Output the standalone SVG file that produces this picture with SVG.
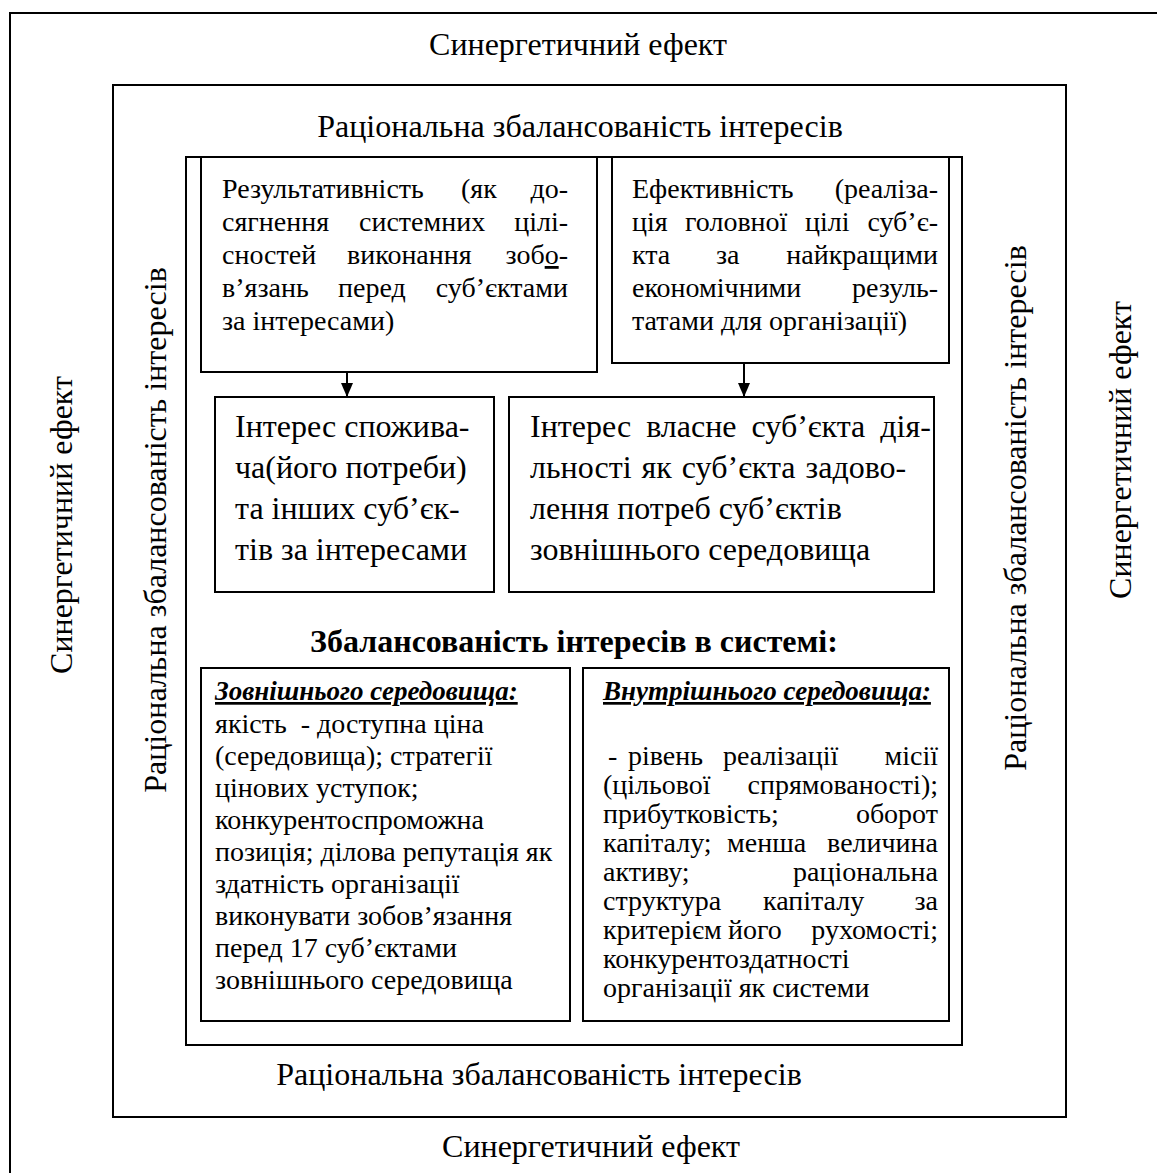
<svg xmlns="http://www.w3.org/2000/svg" width="1157" height="1173" viewBox="0 0 1157 1173">
<defs>
<style>
.t{font-family:"Liberation Serif","Times New Roman",serif;font-size:32px;fill:#000}
.m{font-family:"Liberation Serif","Times New Roman",serif;font-size:28px;fill:#000}
.s{font-family:"Liberation Serif","Times New Roman",serif;font-size:28px;fill:#000;white-space:pre}
.c{text-anchor:middle}
.e{text-anchor:end}
.h{font-weight:bold}
.u{font-weight:bold;font-style:italic;text-decoration:underline;font-size:27px}
.box{fill:#fff;stroke:#000;stroke-width:2}
.frame{fill:none;stroke:#000;stroke-width:2}
.conn{stroke:#000;stroke-width:2;fill:none}
</style>
<marker id="arr" viewBox="0 0 14 12" refX="14" refY="6" markerWidth="14" markerHeight="12" markerUnits="userSpaceOnUse" orient="auto">
<path d="M0,0 L14,6 L0,12 Z" fill="#000"/>
</marker>
</defs>
<rect width="1157" height="1173" fill="#fff"/>

<g id="outer">
<path class="frame" d="M10,1173 V13 H1157"/>
<text class="t c" x="578" y="55">Синергетичний ефект</text>
<text class="t c" x="591" y="1157">Синергетичний ефект</text>
<text class="t c" transform="translate(72,525) rotate(-90)">Синергетичний ефект</text>
<text class="t c" transform="translate(1131,450) rotate(-90)">Синергетичний ефект</text>
</g>

<g id="rational">
<rect class="frame" x="113" y="85" width="953" height="1032"/>
<text class="t c" x="580" y="137">Раціональна збалансованість інтересів</text>
<text class="t c" x="539" y="1085">Раціональна збалансованість інтересів</text>
<text class="t c" transform="translate(166,530) rotate(-90)">Раціональна збалансованість інтересів</text>
<text class="t c" transform="translate(1026,508) rotate(-90)">Раціональна збалансованість інтересів</text>
</g>

<g id="inner">
<rect class="frame" x="186" y="157" width="776" height="888"/>
<text class="t h c" x="574" y="652">Збалансованість інтересів в системі:</text>
</g>

<g id="resultativeness">
<rect class="box" x="201" y="157" width="396" height="215"/>
<text class="m" x="222" y="198">Результативність</text>
<text class="m" x="461" y="198">(як</text>
<text class="m e" x="568" y="198">до-</text>
<text class="m" x="222" y="231">сягнення</text>
<text class="m" x="359" y="231">системних</text>
<text class="m e" x="568" y="231">цілі-</text>
<text class="m" x="222" y="264">сностей</text>
<text class="m" x="347" y="264">виконання</text>
<text class="m e" x="568" y="264">зоб<tspan style="text-decoration:underline">о</tspan>-</text>
<text class="m" x="222" y="297">в’язань</text>
<text class="m" x="338" y="297">перед</text>
<text class="m e" x="568" y="297">суб’єктами</text>
<text class="m" x="222" y="330">за інтересами)</text>
</g>

<g id="efficiency">
<rect class="box" x="612" y="157" width="337" height="206"/>
<text class="m" x="632" y="198">Ефективність</text>
<text class="m e" x="938" y="198">(реаліза-</text>
<text class="m" x="632" y="231">ція</text>
<text class="m" x="685" y="231">головної</text>
<text class="m" x="805" y="231">цілі</text>
<text class="m e" x="938" y="231">суб’є-</text>
<text class="m" x="632" y="264">кта</text>
<text class="m" x="716" y="264">за</text>
<text class="m e" x="938" y="264">найкращими</text>
<text class="m" x="632" y="297">економічними</text>
<text class="m e" x="938" y="297">резуль-</text>
<text class="m" x="632" y="330">татами для організації)</text>
</g>

<g id="consumer">
<rect class="box" x="215" y="397" width="279" height="195"/>
<text class="t" x="235" y="437">Інтерес спожива-</text>
<text class="t" x="235" y="478">ча(його потреби)</text>
<text class="t" x="235" y="519">та інших суб’єк-</text>
<text class="t" x="235" y="560">тів за інтересами</text>
</g>

<g id="subject">
<rect class="box" x="509" y="397" width="425" height="195"/>
<text class="t" x="530" y="437" word-spacing="7">Інтерес власне суб’єкта дія-</text>
<text class="t" x="530" y="478" word-spacing="2">льності як суб’єкта задово-</text>
<text class="t" x="530" y="519">лення потреб суб’єктів</text>
<text class="t" x="530" y="560">зовнішнього середовища</text>
</g>

<g id="external">
<rect class="box" x="201" y="668" width="369" height="353"/>
<text class="s u" x="215" y="700">Зовнішнього середовища:</text>
<text class="s" x="215" y="733">якість  - доступна ціна</text>
<text class="s" x="215" y="765">(середовища); стратегії</text>
<text class="s" x="215" y="797">цінових уступок;</text>
<text class="s" x="215" y="829">конкурентоспроможна</text>
<text class="s" x="215" y="861">позиція; ділова репутація як</text>
<text class="s" x="215" y="893">здатність організації</text>
<text class="s" x="215" y="925">виконувати зобов’язання</text>
<text class="s" x="215" y="957">перед 17 суб’єктами</text>
<text class="s" x="215" y="989">зовнішнього середовища</text>
</g>

<g id="internal">
<rect class="box" x="583" y="668" width="366" height="353"/>
<text class="s u" x="603" y="700">Внутрішнього середовища:</text>
<text class="s" x="608" y="765">-</text>
<text class="s" x="628" y="765">рівень</text>
<text class="s" x="723" y="765">реалізації</text>
<text class="s e" x="938" y="765">місії</text>
<text class="s" x="603" y="794">(цільової</text>
<text class="s e" x="938" y="794">спрямованості);</text>
<text class="s" x="603" y="823">прибутковість;</text>
<text class="s e" x="938" y="823">оборот</text>
<text class="s" x="603" y="852">капіталу;</text>
<text class="s" x="727" y="852">менша</text>
<text class="s e" x="938" y="852">величина</text>
<text class="s" x="603" y="881">активу;</text>
<text class="s e" x="938" y="881">раціональна</text>
<text class="s" x="603" y="910">структура</text>
<text class="s" x="763" y="910">капіталу</text>
<text class="s e" x="938" y="910">за</text>
<text class="s" x="603" y="939">критерієм</text>
<text class="s" x="728" y="939">його</text>
<text class="s e" x="938" y="939">рухомості;</text>
<text class="s" x="603" y="968">конкурентоздатності</text>
<text class="s" x="603" y="997">організації як системи</text>
</g>

<g id="connectors">
<line class="conn" x1="347" y1="372" x2="347" y2="397" marker-end="url(#arr)"/>
<line class="conn" x1="744" y1="363" x2="744" y2="397" marker-end="url(#arr)"/>
</g>
</svg>
